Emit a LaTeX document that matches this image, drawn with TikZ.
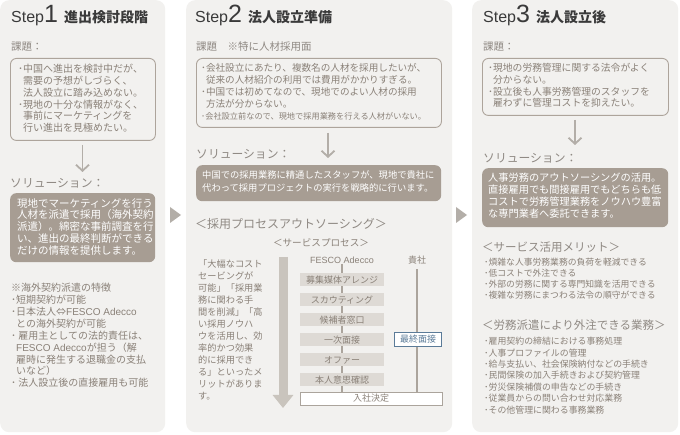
\documentclass[tikz,border=0pt]{standalone}
\usepackage{fontspec}
\setmainfont{Noto Sans CJK JP}
\newfontfamily\lat{Liberation Sans}
\usetikzlibrary{arrows.meta}
\definecolor{panelbg}{HTML}{F2F1EF}
\definecolor{txtc}{HTML}{8A8178}
\definecolor{headc}{HTML}{8F8983}
\definecolor{titlec}{HTML}{3A3A3A}
\definecolor{boxline}{HTML}{ADA49B}
\definecolor{solfill}{HTML}{A79D93}
\definecolor{arrc}{HTML}{B3AEA8}
\definecolor{procfill}{HTML}{DEDAD5}
\definecolor{bigarr}{HTML}{C9C4BD}
\definecolor{bluec}{HTML}{5B7B98}
\definecolor{linec}{HTML}{ABA49C}
\newcommand{\fs}[2]{\fontsize{#1}{#2}\selectfont}
\newcommand{\ind}{\phantom{･}}
\newcommand{\steptitle}[2]{{\lat\fs{16}{16}Step\fs{25}{25}#1}\hspace{6pt}{\rmfamily\bfseries\fs{14}{14}#2}}
\begin{document}
\begin{tikzpicture}[x=1pt,y=-1pt,
 panel/.style={fill=panelbg, rounded corners=9pt, inner sep=0, anchor=north west},
 probbox/.style={draw=boxline, line width=0.9pt, rounded corners=6pt, inner sep=0, anchor=north west},
 solbox/.style={fill=solfill, rounded corners=6pt, inner sep=0, anchor=north west},
 txt/.style={inner sep=0, anchor=north west, align=left, text=txtc},
 wtxt/.style={inner sep=0, anchor=north west, align=left, text=white},
 head/.style={inner sep=0, anchor=west, text=headc},
 ttl/.style={inner sep=0, anchor=base west, text=titlec},
 darr/.style={draw=arrc, line width=1.8pt, -{Straight Barb[length=6pt,width=13pt]}},
 tri/.style={fill=arrc},
 proc/.style={fill=procfill, minimum width=84pt, minimum height=13pt, inner sep=0, text=txtc, font=\fs{9}{9}},
 wbox/.style={fill=white, draw=linec, line width=0.8pt, inner sep=0, font=\fs{9}{9}},
 vline/.style={draw=linec, line width=1.2pt},
 bigarrow/.style={draw=bigarr, line width=9pt, -{Triangle[length=13pt,width=20pt]}},
]
\useasboundingbox (0,0) rectangle (680,435);
\fill[white] (0,0) rectangle (680,435);

% panels
\node[panel, minimum width=165pt, minimum height=432pt] (pan1) at (0,0) {};
\node[panel, minimum width=266pt, minimum height=432pt] (pan2) at (186,0) {};
\node[panel, minimum width=206pt, minimum height=432pt] (pan3) at (472,0) {};

% panel arrows
\fill[tri] (170,207) -- (181,215) -- (170,223) -- cycle;
\fill[tri] (456,207) -- (467,215) -- (456,223) -- cycle;

% ---------- Step 1 ----------
\node[ttl] (t1) at (11,23) {\steptitle{1}{進出検討段階}};
\node[head, font=\fs{10.5}{10.5}] (h1) at (11,47) {課題：};
\node[probbox, minimum width=145pt, minimum height=82pt] (p1) at (10,58) {};
\node[txt, font=\fs{10}{11.8}] (p1t) at (18,64) {･中国へ進出を検討中だが、\\\ind 需要の予想がしづらく、\\\ind 法人設立に踏み込めない。\\･現地の十分な情報がなく、\\\ind 事前にマーケティングを\\\ind 行い進出を見極めたい。};
\coordinate (a1s) at (82.5,145);
\coordinate (a1e) at (82.5,172);
\draw[darr] (a1s) -- (a1e);
\node[head, font=\fs{11.8}{11.8}] (s1h) at (10,183) {ソリューション：};
\node[solbox, minimum width=145pt, minimum height=69pt] (s1) at (10,193) {};
\node[wtxt, font=\fs{10.5}{11.8}] (s1t) at (17,198) {現地でマーケティングを行う\\人材を派遣で採用（海外契約\\派遣）。綿密な事前調査を行\\い、進出の最終判断ができる\\だけの情報を提供します。};
\node[txt, font=\fs{10}{11.9}] (n1) at (11,283) {※海外契約派遣の特徴\\･短期契約が可能\\･日本法人⇔{\lat FESCO Adecco}\\\ind との海外契約が可能\\･ 雇用主としての法的責任は、\\\ind {\lat FESCO Adecco}が担う（解\\\ind 雇時に発生する退職金の支払\\\ind いなど）\\･ 法人設立後の直接雇用も可能};

% ---------- Step 2 ----------
\node[ttl] (t2) at (195,23) {\steptitle{2}{法人設立準備}};
\node[head, font=\fs{10.5}{10.5}] (h2) at (196,47) {課題　※特に人材採用面};
\node[probbox, minimum width=245pt, minimum height=69pt] (p2) at (196,58) {};
\node[txt, font=\fs{9.6}{12}] (p2t) at (201,63) {･会社設立にあたり、複数名の人材を採用したいが、\\\ind 従来の人材紹介の利用では費用がかかりすぎる。\\･中国では初めてなので、現地でのよい人材の採用\\\ind 方法が分からない。\\{\fs{8.2}{12}･会社設立前なので、現地で採用業務を行える人材がいない。}};
\coordinate (a2s) at (328,133);
\coordinate (a2e) at (328,158);
\draw[darr] (a2s) -- (a2e);
\node[head, font=\fs{11.8}{11.8}] (s2h) at (196,154) {ソリューション：};
\node[solbox, minimum width=245pt, minimum height=36pt] (s2) at (196,165) {};
\node[wtxt, font=\fs{9.3}{13}] (s2t) at (202,170) {中国での採用業務に精通したスタッフが、現地で貴社に\\代わって採用プロジェクトの実行を戦略的に行います。};
\node[head, font=\fs{12}{12}] (o2) at (195,224) {＜採用プロセスアウトソーシング＞};
\node[inner sep=0, text=txtc, font=\fs{9.6}{9.6}] (sp) at (321,243) {＜サービスプロセス＞};
\node[inner sep=0, text=txtc, font=\lat\fs{9}{9}] (fesco) at (342,260) {FESCO Adecco};
\node[inner sep=0, text=txtc, font=\fs{9}{9}] (kisha) at (417,260) {貴社};
\node[txt, font=\fs{9.2}{12}] (lt) at (198,260) {「大幅なコスト\\セービングが\\可能」「採用業\\務に関わる手\\間を削減」「高\\い採用ノウハ\\ウを活用し、効\\率的かつ効果\\的に採用でき\\る」といったメ\\リットがありま\\す。};
\coordinate (ba0) at (283,257);
\coordinate (ba1) at (283,408);
\draw[bigarrow] (ba0) -- (ba1);
\node[wbox, minimum width=142pt, minimum height=13pt, text=txtc] (nyusha) at (371,398.5) {入社決定};
\draw[vline] (fesco.south) -- (fesco.south |- nyusha.north);
\draw[vline] ([yshift=-5pt]kisha.south) -- (kisha.south |- nyusha.north);
\node[proc] (pr1) at (342,280) {募集媒体アレンジ};
\node[proc] (pr2) at (342,300) {スカウティング};
\node[proc] (pr3) at (342,320) {候補者窓口};
\node[proc] (pr4) at (342,340) {一次面接};
\node[proc] (pr5) at (342,360) {オファー};
\node[proc] (pr6) at (342,380) {本人意思確認};
\node[wbox, draw=bluec, text=bluec, minimum width=47pt, minimum height=14pt] (saishu) at (418,339.5) {最終面接};

% ---------- Step 3 ----------
\node[ttl] (t3) at (483,23) {\steptitle{3}{法人設立後}};
\node[head, font=\fs{10.5}{10.5}] (h3) at (483,47) {課題：};
\node[probbox, minimum width=186pt, minimum height=57pt] (p3) at (482,58) {};
\node[txt, font=\fs{9.8}{11.8}] (p3t) at (488,63) {･現地の労務管理に関する法令がよく\\\ind 分からない。\\･設立後も人事労務管理のスタッフを\\\ind 雇わずに管理コストを抑えたい。};
\coordinate (a3s) at (575,120);
\coordinate (a3e) at (575,145);
\draw[darr] (a3s) -- (a3e);
\node[head, font=\fs{11.8}{11.8}] (s3h) at (483,158) {ソリューション：};
\node[solbox, minimum width=186pt, minimum height=59pt] (s3) at (482,168) {};
\node[wtxt, font=\fs{10.2}{11.8}] (s3t) at (488,173) {人事労務のアウトソーシングの活用。\\直接雇用でも間接雇用でもどちらも低\\コストで労務管理業務をノウハウ豊富\\な専門業者へ委託できます。};
\node[head, font=\fs{11.5}{11.5}] (m3) at (482,247) {＜サービス活用メリット＞};
\node[txt, font=\fs{8.8}{11}] (m3t) at (484,258) {･煩雑な人事労務業務の負荷を軽減できる\\･低コストで外注できる\\･外部の労務に関する専門知識を活用できる\\･複雑な労務にまつわる法令の順守ができる};
\node[head, font=\fs{11.5}{11.5}] (g3) at (482,325) {＜労務派遣により外注できる業務＞};
\node[txt, font=\fs{8.9}{11.4}] (g3t) at (484,337) {･雇用契約の締結における事務処理\\･人事プロファイルの管理\\･給与支払い、社会保険納付などの手続き\\･民間保険の加入手続きおよび契約管理\\･労災保険補償の申告などの手続き\\･従業員からの問い合わせ対応業務\\･その他管理に関わる事務業務};
\end{tikzpicture}
\end{document}
